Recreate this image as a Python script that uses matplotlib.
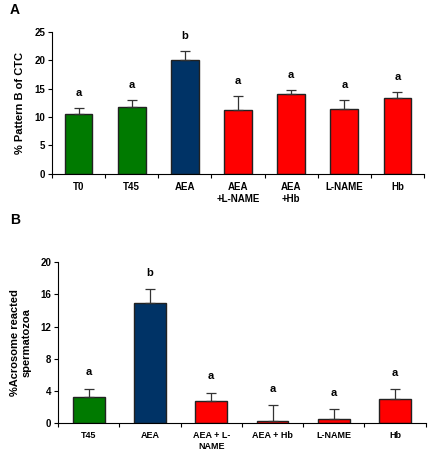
import matplotlib
matplotlib.use("Agg")
import matplotlib.pyplot as plt
import numpy as np

plt.rcParams['font.family'] = ['Liberation Sans', 'DejaVu Sans']

# Panel A
cats_a = ["T0", "T45", "AEA", "AEA\n+L-NAME", "AEA\n+Hb", "L-NAME", "Hb"]
vals_a = [10.5, 11.8, 20.1, 11.2, 14.0, 11.5, 13.3]
err_a = [1.1, 1.2, 1.5, 2.5, 0.8, 1.5, 1.1]
letters_a = ["a", "a", "b", "a", "a", "a", "a"]
colors_a = ["#007A00", "#007A00", "#003366", "#FF0000", "#FF0000", "#FF0000", "#FF0000"]
yticks_a = [0, 5, 10, 15, 20, 25]

# Panel B
cats_b = ["T45", "AEA", "AEA + L-\nNAME", "AEA + Hb", "L-NAME", "Hb"]
vals_b = [3.3, 14.9, 2.7, 0.3, 0.55, 3.0]
err_b = [1.0, 1.7, 1.1, 2.0, 1.25, 1.2]
letters_b = ["a", "b", "a", "a", "a", "a"]
colors_b = ["#007A00", "#003366", "#FF0000", "#FF0000", "#FF0000", "#FF0000"]
yticks_b = [0, 4, 8, 12, 16, 20]

fig = plt.figure(figsize=(4.3, 4.55), dpi=100)
axA = fig.add_axes([0.121, 0.618, 0.865, 0.312])
axB = fig.add_axes([0.135, 0.070, 0.855, 0.354])


def draw(ax, cats, vals, errs, letters, colors, yticks, ylabel, letter_off,
         ylabel_x, xfs):
    n = len(cats)
    x = np.arange(n)
    ax.bar(x, vals, width=0.52, color=colors, edgecolor="#222222", linewidth=1.0, zorder=2)
    ax.errorbar(x, vals, yerr=[np.zeros(n), errs], fmt="none", ecolor="#333333",
                elinewidth=0.9, capsize=3.5, capthick=0.9, zorder=3)
    for xi, v, e, l in zip(x, vals, errs, letters):
        ax.text(xi, v + e + letter_off, l, ha="center", va="center",
                fontsize=8, fontweight="bold")
    ax.set_xlim(-0.5, n - 0.5)
    ax.set_ylim(yticks[0], yticks[-1])
    ax.set_yticks(yticks)
    ax.set_yticklabels([str(t) for t in yticks], fontsize=7, fontweight="bold")
    ax.set_xticks(np.arange(n + 1) - 0.5)
    ax.set_xticklabels([])
    ax.set_xticks(x, minor=True)
    ax.set_xticklabels(cats, minor=True, fontsize=xfs, fontweight="bold", va="top")
    ax.tick_params(axis="x", which="minor", length=0, pad=6)
    ax.tick_params(axis="x", which="major", length=3, direction="out", width=0.8)
    ax.tick_params(axis="y", length=3, direction="out", width=0.8, pad=2)
    for s in ["top", "right"]:
        ax.spines[s].set_visible(False)
    for s in ["left", "bottom"]:
        ax.spines[s].set_linewidth(0.8)
    ax.set_ylabel(ylabel, fontsize=8, fontweight="bold")
    ax.yaxis.set_label_coords(ylabel_x, 0.5)


draw(axA, cats_a, vals_a, err_a, letters_a, colors_a, yticks_a,
     "% Pattern B of CTC", 2.6, -0.073, 7)
draw(axB, cats_b, vals_b, err_b, letters_b, colors_b, yticks_b,
     "%Acrosome reacted\nspermatozoa", 2.0, -0.073, 6.5)

fig.text(10 / 430, 1 - 10 / 455, "A", fontsize=10, fontweight="bold", ha="left", va="center")
fig.text(10 / 430, 1 - 220 / 455, "B", fontsize=10, fontweight="bold", ha="left", va="center")

fig.savefig("out.png", dpi=100)
